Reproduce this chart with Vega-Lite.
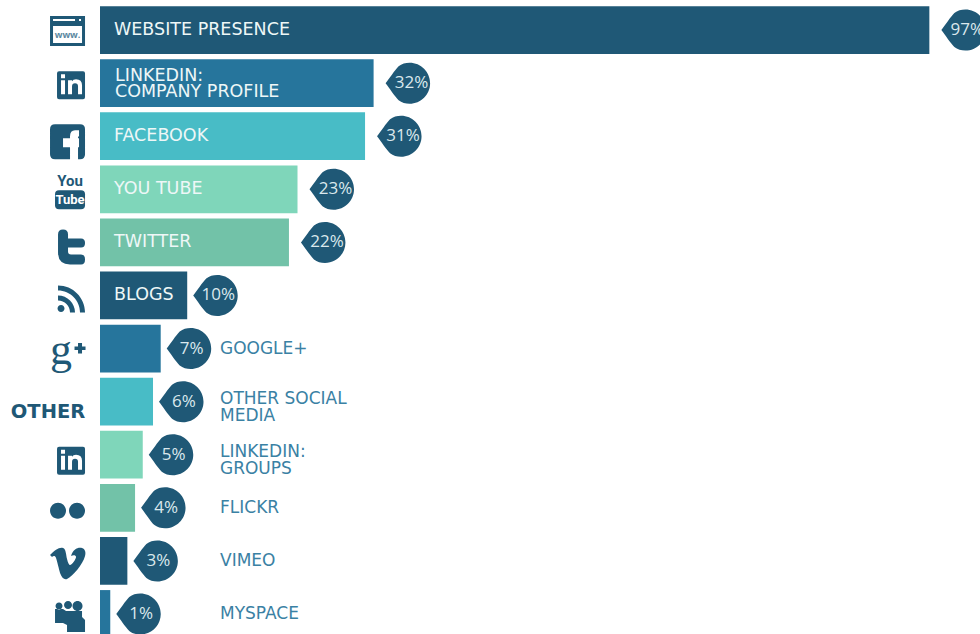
{
"$schema":"https://vega.github.io/schema/vega-lite/v6.json",
"width":980,"height":634,"padding":0,
"autosize":{"type":"fit","contains":"padding"},
"background":"white",
"config":{"view":{"stroke":null},"axis":{"disable":true}},
"data":{"values":[
{"channel":"WEBSITE PRESENCE","value":97,"share":"97%","tone":"a"},
{"channel":"LINKEDIN:\nCOMPANY PROFILE","value":32,"share":"32%","tone":"b"},
{"channel":"FACEBOOK","value":31,"share":"31%","tone":"c"},
{"channel":"YOU TUBE","value":23.1,"share":"23%","tone":"d"},
{"channel":"TWITTER","value":22.1,"share":"22%","tone":"e"},
{"channel":"BLOGS","value":10.2,"share":"10%","tone":"a"},
{"channel":"GOOGLE+","value":7.1,"share":"7%","tone":"b"},
{"channel":"OTHER SOCIAL\nMEDIA","value":6.2,"share":"6%","tone":"c"},
{"channel":"LINKEDIN:\nGROUPS","value":5,"share":"5%","tone":"d"},
{"channel":"FLICKR","value":4.1,"share":"4%","tone":"e"},
{"channel":"VIMEO","value":3.2,"share":"3%","tone":"a"},
{"channel":"MYSPACE","value":1.2,"share":"1%","tone":"b"}
]},
"encoding":{"y":{"field":"channel","type":"nominal","axis":null,"scale":{"domain":["WEBSITE PRESENCE","LINKEDIN:\nCOMPANY PROFILE","FACEBOOK","YOU TUBE","TWITTER","BLOGS","GOOGLE+","OTHER SOCIAL\nMEDIA","LINKEDIN:\nGROUPS","FLICKR","VIMEO","MYSPACE"],"range":[3.5,640.5],"paddingInner":0.1,"paddingOuter":0.05}}},
"layer":[
{"mark":{"type":"bar","clip":true},
 "encoding":{"x":{"field":"value","type":"quantitative","axis":null,"scale":{"domain":[-11.696,102.924],"nice":false,"zero":false}},
 "color":{"field":"tone","type":"nominal","legend":null,"scale":{"domain":["a","b","c","d","e"],"range":["#1f5876","#26759c","#48bcc6","#7fd6ba","#72c2a8"]}}}},
{"transform":[{"filter":"datum.value>=20"}],
 "mark":{"type":"point","filled":true,"opacity":1,"size":4,"strokeWidth":0,"color":"#1f5876","xOffset":36,"clip":true,"shape":"M-24,0 C-20,-5 -15,-13 -11,-17 C-8,-19.5 -4,-20.5 0,-20.5 A20.5,20.5 0 1 1 0,20.5 C-4,20.5 -8,19.5 -11,17 C-15,13 -20,5 -24,0 Z"},
 "encoding":{"x":{"field":"value","type":"quantitative"}}},
{"transform":[{"filter":"datum.value<20"}],
 "mark":{"type":"point","filled":true,"opacity":1,"size":4,"strokeWidth":0,"color":"#1f5876","xOffset":30,"clip":true,"shape":"M-24,0 C-20,-5 -15,-13 -11,-17 C-8,-19.5 -4,-20.5 0,-20.5 A20.5,20.5 0 1 1 0,20.5 C-4,20.5 -8,19.5 -11,17 C-15,13 -20,5 -24,0 Z"},
 "encoding":{"x":{"field":"value","type":"quantitative"}}},
{"transform":[{"filter":"datum.value>=20"}],
 "mark":{"type":"text","align":"center","baseline":"middle","dx":38,"fontSize":17,"font":"Open Sans","fontWeight":400,"color":"#dbe8ed","clip":true},
 "encoding":{"x":{"field":"value","type":"quantitative"},"text":{"field":"share"}}},
{"transform":[{"filter":"datum.value<20"}],
 "mark":{"type":"text","align":"center","baseline":"middle","dx":31,"fontSize":17,"font":"Open Sans","fontWeight":400,"color":"#dbe8ed","clip":true},
 "encoding":{"x":{"field":"value","type":"quantitative"},"text":{"field":"share"}}},
{"transform":[{"filter":"datum.value>=10 && indexof(datum.channel,'\\n')<0"}],
 "mark":{"type":"text","align":"left","baseline":"middle","dx":14,"fontSize":17.5,"font":"DejaVu Sans","color":"#eef7f7"},
 "encoding":{"x":{"datum":0},"text":{"field":"channel"}}},
{"transform":[{"filter":"datum.value>=10 && indexof(datum.channel,'\\n')>=0"}],
 "mark":{"type":"text","align":"left","baseline":"middle","dx":15,"dy":-7,"fontSize":17.5,"font":"DejaVu Sans","lineBreak":"\n","lineHeight":16,"color":"#eef7f7"},
 "encoding":{"x":{"datum":0},"text":{"field":"channel"}}},
{"transform":[{"filter":"datum.value<10 && indexof(datum.channel,'\\n')<0"}],
 "mark":{"type":"text","align":"left","baseline":"middle","dx":120,"fontSize":17,"font":"DejaVu Sans","color":"#3a81a4"},
 "encoding":{"x":{"datum":0},"text":{"field":"channel"}}},
{"transform":[{"filter":"datum.value<10 && indexof(datum.channel,'\\n')>=0"}],
 "mark":{"type":"text","align":"left","baseline":"middle","dx":120,"dy":-3,"fontSize":17,"font":"DejaVu Sans","lineBreak":"\n","lineHeight":17,"color":"#3a81a4"},
 "encoding":{"x":{"datum":0},"text":{"field":"channel"}}},
{"mark":{"type":"point","filled":true,"opacity":1,"size":4,"strokeWidth":0,"color":"#1f5876"},
 "encoding":{"x":{"datum":-3.74},
 "shape":{"field":"channel","type":"nominal","legend":null,"scale":{"domain":["WEBSITE PRESENCE","LINKEDIN:\nCOMPANY PROFILE","FACEBOOK","YOU TUBE","TWITTER","BLOGS","GOOGLE+","OTHER SOCIAL\nMEDIA","LINKEDIN:\nGROUPS","FLICKR","VIMEO","MYSPACE"],
 "range":[
 "M-18,-14 H17 V16 H-18 Z M-15,-4 V13 H14 V-4 Z M-15,-11 V-9 H7 V-11 Z M11,-11 V-9 H13 V-11 Z",
 "M-9,-12 H15 Q17,-12 17,-10 V14 Q17,16 15,16 H-9 Q-11,16 -11,14 V-10 Q-11,-12 -9,-12 Z M-7,-3 V11 H-3 V-3 Z M-7,-9 V-5 H-3 V-9 Z M0,-3 V11 H4 V3 Q4,0 7,0 Q10,0 10,3 V11 H14 V2 Q14,-4 8,-4 Q5,-4 4,-2 V-3 Z",
 "M-13,-12 H12 Q17,-12 17,-7 V18 Q17,23 12,23 H-13 Q-18,23 -18,18 V-7 Q-18,-12 -13,-12 Z M11,-6 H7 Q2,-6 2,0 V2 H-5 V11 H2 V23 H10 V11 H11 V2 H10 V1 Q10,0 11,0 Z",
 "M-9,1 H13 Q17,1 17,5 V16 Q17,20 13,20 H-9 Q-13,20 -13,16 V5 Q-13,1 -9,1 Z",
 "M-10,-8 Q-10,-13 -5,-13 Q0,-13 0,-8 V-4 H13 Q17,-4 17,0.5 Q17,5 13,5 H0 V9 Q0,12 3,12 H13 Q17,12 17,17 Q17,22 13,22 H2 Q-10,22 -10,10 Z",
 "M-10,-10 A27,27 0 0 1 17,17 L12,17 A22,22 0 0 0 -10,-5 Z M-10,0 A17,17 0 0 1 7,17 L2,17 A12,12 0 0 0 -10,5 Z M-10.5,13 A3.5,3.5 0 1 0 -3.5,13 A3.5,3.5 0 1 0 -10.5,13 Z",
 "M10,5 H14 V1.5 H17.5 V-2 H14 V-5.5 H10 V-2 H6.5 V1.5 H10 Z",
 "M0,0 L0,0 Z",
 "M-9,-8 H15 Q17,-8 17,-6 V18 Q17,20 15,20 H-9 Q-11,20 -11,18 V-6 Q-11,-8 -9,-8 Z M-7,1 V15 H-3 V1 Z M-7,-5 V-1 H-3 V-5 Z M0,1 V15 H4 V7 Q4,4 7,4 Q10,4 10,7 V15 H14 V6 Q14,0 8,0 Q5,0 4,2 V1 Z",
 "M-18,3 A8,8 0 1 0 -2,3 A8,8 0 1 0 -18,3 Z M1,3 A8,8 0 1 0 17,3 A8,8 0 1 0 1,3 Z",
 "M-18,-6 C-13,-11 -9,-14 -5,-13 C-2,-12 -2,-6 -1,-2 C0,2 1,4 2,4 C4,4 8,-2 8,-4 C8,-6 5,-6 3,-5 C5,-12 10,-14 14,-13 C17,-12 18,-9 17,-5 C15,3 5,15 -1,18 C-4,19 -6,17 -8,12 C-9,8 -11,0 -12,-3 C-13,-6 -15,-5 -16,-4 Z",
 "M-13,-5 L-5,-5 L-2,-3 L14,-3 L14,3 L17,6 L17,18 L-1,18 L-1,11 L-5,9 L-13,9 Z M-12.5,-8 A3.5,3.5 0 1 0 -5.5,-8 A3.5,3.5 0 1 0 -12.5,-8 Z M-4,-9 A4,4 0 1 0 4,-9 A4,4 0 1 0 -4,-9 Z M4.5,-8 A5,5 0 1 0 14.5,-8 A5,5 0 1 0 4.5,-8 Z"
 ]}}}},
{"data":{"values":[{"channel":"YOU TUBE","glyph":"Tube"}]},
 "mark":{"type":"text","align":"center","baseline":"middle","dx":2,"dy":11,"fontSize":13,"font":"Roboto","fontWeight":"bold","color":"white"},
 "encoding":{"x":{"datum":-3.74},"text":{"field":"glyph"}}},
{"data":{"values":[{"channel":"YOU TUBE","glyph":"You"}]},
 "mark":{"type":"text","align":"center","baseline":"middle","dx":2,"dy":-8,"fontSize":15,"font":"Roboto","fontWeight":"bold","color":"#1f5876"},
 "encoding":{"x":{"datum":-3.74},"text":{"field":"glyph"}}},
{"data":{"values":[{"channel":"WEBSITE PRESENCE","glyph":"www."}]},
 "mark":{"type":"text","align":"center","baseline":"middle","dx":-0.5,"dy":5,"fontSize":9,"font":"Open Sans","fontWeight":"bold","color":"#5a87a0"},
 "encoding":{"x":{"datum":-3.74},"text":{"field":"glyph"}}},
{"data":{"values":[{"channel":"GOOGLE+","glyph":"g"}]},
 "mark":{"type":"text","align":"center","baseline":"alphabetic","dx":-7,"dy":15,"fontSize":44,"font":"Liberation Serif","color":"#1f5876"},
 "encoding":{"x":{"datum":-3.74},"text":{"field":"glyph"}}},
{"data":{"values":[{"channel":"OTHER SOCIAL\nMEDIA","glyph":"OTHER"}]},
 "mark":{"type":"text","align":"center","baseline":"middle","dx":-20,"dy":10,"fontSize":19.5,"font":"DejaVu Sans","fontWeight":"bold","color":"#1f5876"},
 "encoding":{"x":{"datum":-3.74},"text":{"field":"glyph"}}}
]
}
